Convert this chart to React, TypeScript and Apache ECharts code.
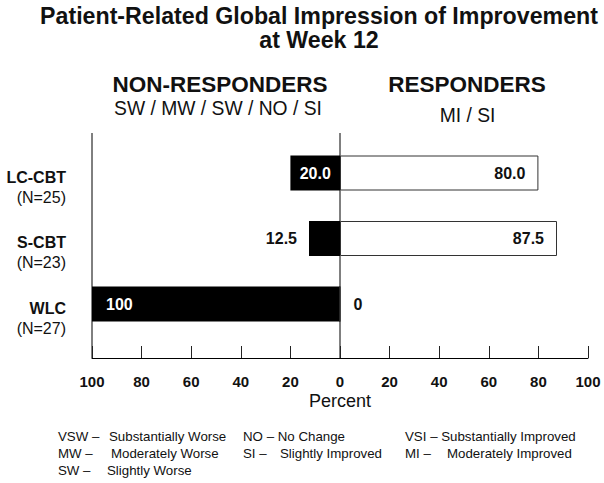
import React, { useEffect, useRef } from "react";
import * as echarts from "echarts";

const groups = ["LC-CBT", "S-CBT", "WLC"];
const groupN = [25, 23, 27];
const nonResponders = [20.0, 12.5, 100];
const responders = [80.0, 87.5, 0];
const xTicks = [-100, -80, -60, -40, -20, 0, 20, 40, 60, 80, 100];

const titleLines = ["Patient-Related Global Impression of Improvement", "at Week 12"];
const leftHeader = "NON-RESPONDERS";
const leftSub = "SW / MW / SW / NO / SI";
const rightHeader = "RESPONDERS";
const rightSub = "MI / SI";
const xName = "Percent";
const legendCol1 = [
  ["VSW \u2013", "Substantially Worse"],
  ["MW \u2013", "Moderately Worse"],
  ["SW \u2013", "Slightly Worse"],
];
const legendCol2 = [
  ["NO \u2013 No Change", ""],
  ["SI \u2013", "Slightly Improved"],
];
const legendCol3 = [
  ["VSI \u2013 Substantially Improved", ""],
  ["MI \u2013", "Moderately Improved"],
];

const FONT = "'Liberation Sans', Arial, Helvetica, sans-serif";
const INK = "#111";

function fmt(v: number) {
  return v === 0 || v === 100 ? String(v) : v.toFixed(1);
}

export default function App() {
  const ref = useRef<HTMLDivElement>(null);
  useEffect(() => {
    document.body.style.margin = "0";
    if (!ref.current) return;
    const chart = echarts.init(ref.current, undefined, { renderer: "svg" });

    const txt = (x: number, y: number, text: string, size: number, bold: boolean, align = "center") => ({
      type: "text",
      x,
      y,
      style: {
        text,
        fontFamily: FONT,
        fontSize: size,
        fontWeight: bold ? "bold" : "normal",
        fill: INK,
        align,
        verticalAlign: "middle",
      },
    });

    const legendRowsY = [436, 453, 470];
    const col1DescX = [109, 111, 107];
    const LF = 13.3;
    const legendEls: any[] = [];
    legendCol1.forEach((r, i) => {
      legendEls.push(txt(58, legendRowsY[i], r[0], LF, false, "left"));
      legendEls.push(txt(col1DescX[i], legendRowsY[i], r[1], LF, false, "left"));
    });
    legendCol2.forEach((r, i) => {
      legendEls.push(txt(243, legendRowsY[i], r[0], LF, false, "left"));
      if (r[1]) legendEls.push(txt(280, legendRowsY[i], r[1], LF, false, "left"));
    });
    legendCol3.forEach((r, i) => {
      legendEls.push(txt(405, legendRowsY[i], r[0], LF, false, "left"));
      if (r[1]) legendEls.push(txt(447, legendRowsY[i], r[1], LF, false, "left"));
    });

    const baseGraphics = [
      txt(319, 16, titleLines[0], 23.2, true),
      txt(319, 39.5, titleLines[1], 23.2, true),
      txt(220, 84, leftHeader, 22.5, true),
      txt(218, 108.5, leftSub, 19.3, false),
      txt(467, 84.5, rightHeader, 22.5, true),
      txt(467.5, 115.5, rightSub, 19.3, false),
      ...legendEls,
    ];

    const option: any = {
      animation: false,
      grid: { left: 92, right: 16, top: 140.25, bottom: 146.25, containLabel: false },
      xAxis: {
        type: "value",
        min: -100,
        max: 100,
        interval: 20,
        offset: 21.25,
        axisLine: { show: true, onZero: false, lineStyle: { color: "#000", width: 1 } },
        axisTick: { show: true, inside: true, length: 12, lineStyle: { color: "#222" } },
        splitLine: { show: false },
        axisLabel: {
          formatter: (v: number) => String(Math.abs(v)),
          fontFamily: FONT,
          fontSize: 15,
          fontWeight: "bold",
          color: INK,
          margin: 16,
        },
        name: xName,
        nameLocation: "middle",
        nameGap: 34,
        nameTextStyle: { fontFamily: FONT, fontSize: 18, color: INK },
      },
      yAxis: {
        type: "category",
        inverse: true,
        data: groups.map((g, i) => `{b|${g}}\n{n|(N=${groupN[i]})}`),
        axisLine: { show: false },
        axisTick: { show: true, alignWithLabel: true, length: 12, lineStyle: { color: "#444" } },
        axisLabel: {
          margin: 26,
          align: "right",
          padding: [28, 0, 0, 0],
          rich: {
            b: { fontFamily: FONT, fontSize: 16, fontWeight: "bold", color: INK, lineHeight: 20, align: "right" },
            n: { fontFamily: FONT, fontSize: 16, color: INK, lineHeight: 20, align: "right" },
          },
        },
      },
      series: [
        {
          name: "Non-responders",
          type: "bar",
          barWidth: 35,
          barGap: "-100%",
          data: nonResponders.map((v) => {
            const pos = v >= 100 ? "insideLeft" : v < 15 ? "left" : "inside";
            return {
              value: -v,
              label: {
                show: true,
                position: pos,
                distance: pos === "insideLeft" ? 14 : 12,
                color: pos === "left" ? INK : "#fff",
                fontFamily: FONT,
                fontSize: 16,
                fontWeight: "bold",
                formatter: () => fmt(v),
              },
            };
          }),
          itemStyle: { color: "#000" },
        },
        {
          name: "Responders",
          type: "bar",
          barWidth: 35,
          barGap: "-100%",
          data: responders.map((v) => ({
            value: v,
            label: {
              show: true,
              position: v === 0 ? "right" : "insideRight",
              distance: 13,
              color: INK,
              fontFamily: FONT,
              fontSize: 16,
              fontWeight: "bold",
              formatter: () => fmt(v),
            },
          })),
          itemStyle: { color: "#fff", borderColor: "#333", borderWidth: 1 },
        },
      ],
      graphic: baseGraphics,
    };
    chart.setOption(option);

    const xl = chart.convertToPixel({ xAxisIndex: 0 }, xTicks[0]) as number;
    const x0 = chart.convertToPixel({ xAxisIndex: 0 }, 0) as number;
    const axisY = 483 - 146.25 + 21.25;
    chart.setOption({
      graphic: [
        ...baseGraphics,
        { type: "line", shape: { x1: xl, y1: 133, x2: xl, y2: axisY }, style: { stroke: "#000", lineWidth: 1 } },
        { type: "line", shape: { x1: x0, y1: 133, x2: x0, y2: axisY }, style: { stroke: "#000", lineWidth: 1 } },
      ],
    });

    return () => chart.dispose();
  }, []);
  return <div ref={ref} style={{ width: 604, height: 483, background: "#fff" }} />;
}
